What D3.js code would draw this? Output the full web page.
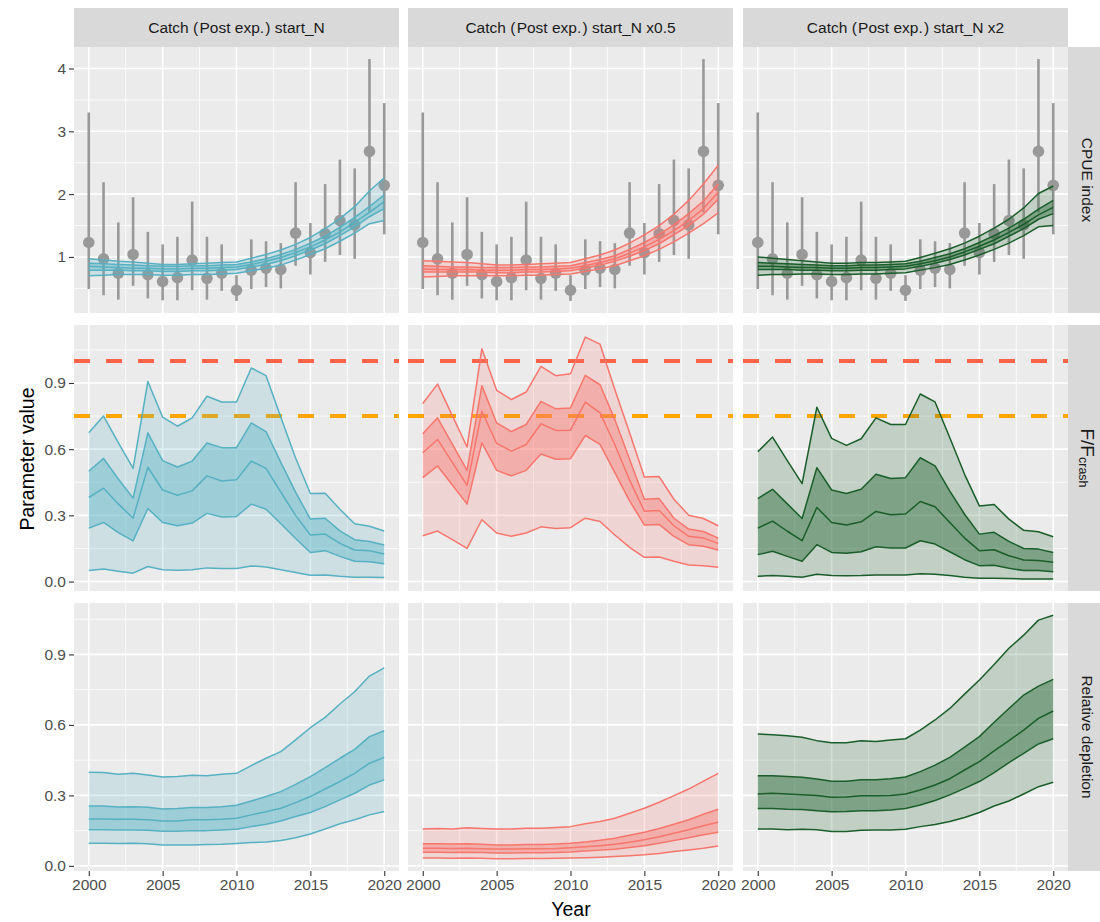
<!DOCTYPE html>
<html>
<head>
<meta charset="utf-8">
<script src="https://cdn.jsdelivr.net/npm/d3@7"></script>
<style>
  body { margin: 0; background: #ffffff; }
  svg { display: block; }
  text { font-family: "Liberation Sans", Arial, Helvetica, sans-serif; }
</style>
</head>
<body>
<svg id="chart" width="1100" height="922"></svg>
<script>
// ---- data -------------------------------------------------------------
const years = [2000, 2001, 2002, 2003, 2004, 2005, 2006, 2007, 2008, 2009, 2010,
               2011, 2012, 2013, 2014, 2015, 2016, 2017, 2018, 2019, 2020];

const scenarios = ["Catch (\u200APost exp.\u200A) start_N", "Catch (\u200APost exp.\u200A) start_N x0.5", "Catch (\u200APost exp.\u200A) start_N x2"];
const scenarioColors = ["#56B1C2", "#F8766D", "#1A5E2A"];
const metrics = ["CPUE index", "F/F_crash", "Relative depletion"];

// observed CPUE index with its interval
const cpueObs  = [1.23, 0.97, 0.74, 1.04, 0.72, 0.61, 0.67, 0.95, 0.66, 0.74, 0.47,
                  0.79, 0.82, 0.80, 1.38, 1.07, 1.37, 1.58, 1.51, 2.68, 2.14];
const cpueLow  = [0.49, 0.39, 0.32, 0.54, 0.34, 0.31, 0.31, 0.47, 0.32, 0.46, 0.30,
                  0.49, 0.52, 0.50, 0.86, 0.72, 0.92, 1.03, 0.97, 1.71, 1.36];
const cpueHigh = [3.30, 2.19, 1.55, 1.95, 1.40, 1.20, 1.32, 1.88, 1.32, 1.20, 0.71,
                  1.28, 1.25, 1.22, 2.19, 1.54, 2.16, 2.55, 2.41, 4.15, 3.45];

// model quantiles per year: [2.5%, 25%, 50%, 75%, 97.5%]
const cpueStartN = [
  [0.70,0.79,0.85,0.90,0.97],[0.71,0.79,0.84,0.89,0.95],[0.72,0.79,0.83,0.88,0.93],
  [0.72,0.78,0.82,0.87,0.92],[0.72,0.78,0.82,0.86,0.90],[0.71,0.77,0.81,0.85,0.88],
  [0.71,0.77,0.81,0.85,0.88],[0.72,0.78,0.82,0.86,0.89],[0.72,0.78,0.82,0.86,0.90],
  [0.73,0.79,0.83,0.87,0.91],[0.74,0.80,0.84,0.88,0.92],[0.78,0.84,0.88,0.92,0.98],
  [0.82,0.88,0.93,0.97,1.04],[0.87,0.94,0.99,1.04,1.11],[0.95,1.02,1.07,1.12,1.20],
  [1.04,1.11,1.16,1.22,1.31],[1.13,1.21,1.27,1.33,1.45],[1.25,1.34,1.40,1.47,1.61],
  [1.38,1.48,1.55,1.63,1.80],[1.53,1.64,1.71,1.80,2.05],[1.58,1.77,1.88,1.99,2.26]];
const cpueHalfN = [
  [0.68,0.76,0.81,0.86,0.94],[0.69,0.76,0.80,0.85,0.93],[0.70,0.76,0.80,0.84,0.92],
  [0.70,0.76,0.80,0.84,0.91],[0.70,0.76,0.79,0.83,0.89],[0.70,0.75,0.79,0.83,0.87],
  [0.70,0.75,0.79,0.83,0.87],[0.71,0.76,0.80,0.84,0.88],[0.71,0.76,0.80,0.84,0.89],
  [0.72,0.77,0.81,0.85,0.90],[0.73,0.78,0.82,0.86,0.91],[0.77,0.82,0.86,0.91,0.97],
  [0.81,0.87,0.91,0.96,1.03],[0.86,0.93,0.97,1.02,1.11],[0.94,1.01,1.06,1.12,1.22],
  [1.02,1.10,1.16,1.23,1.35],[1.12,1.21,1.28,1.36,1.50],[1.24,1.35,1.42,1.51,1.68],
  [1.38,1.50,1.58,1.69,1.90],[1.53,1.68,1.77,1.89,2.16],[1.70,1.92,2.03,2.16,2.46]];
const cpueDoubleN = [
  [0.71,0.80,0.85,0.91,1.00],[0.72,0.80,0.85,0.90,0.98],[0.72,0.80,0.84,0.89,0.96],
  [0.73,0.79,0.83,0.88,0.94],[0.73,0.79,0.83,0.87,0.92],[0.72,0.78,0.82,0.86,0.90],
  [0.72,0.78,0.82,0.86,0.90],[0.73,0.79,0.83,0.87,0.91],[0.73,0.79,0.83,0.87,0.91],
  [0.74,0.80,0.84,0.88,0.92],[0.75,0.81,0.85,0.89,0.93],[0.79,0.85,0.89,0.93,0.99],
  [0.83,0.90,0.94,0.99,1.06],[0.88,0.96,1.00,1.05,1.13],[0.95,1.03,1.08,1.13,1.22],
  [1.03,1.12,1.17,1.23,1.33],[1.12,1.21,1.27,1.34,1.46],[1.22,1.33,1.39,1.46,1.60],
  [1.34,1.45,1.52,1.60,1.78],[1.48,1.60,1.67,1.76,2.01],[1.50,1.69,1.79,1.90,2.13]];

const fStartN = [
  [0.050,0.242,0.381,0.500,0.674],[0.057,0.268,0.423,0.558,0.750],[0.047,0.222,0.352,0.465,0.630],
  [0.038,0.184,0.287,0.378,0.513],[0.068,0.331,0.518,0.674,0.907],[0.054,0.268,0.415,0.548,0.745],
  [0.051,0.253,0.391,0.519,0.704],[0.054,0.265,0.411,0.546,0.742],[0.062,0.309,0.479,0.628,0.840],
  [0.059,0.293,0.456,0.607,0.814],[0.059,0.295,0.461,0.607,0.814],[0.071,0.351,0.546,0.719,0.968],
  [0.066,0.328,0.513,0.680,0.933],[0.054,0.262,0.405,0.540,0.745],[0.041,0.195,0.300,0.405,0.560],
  [0.029,0.132,0.211,0.283,0.399],[0.030,0.140,0.215,0.287,0.400],[0.024,0.114,0.173,0.230,0.328],
  [0.020,0.092,0.143,0.190,0.262],[0.020,0.090,0.140,0.182,0.251],[0.018,0.081,0.125,0.166,0.229]];
const fHalfN = [
  [0.208,0.471,0.584,0.670,0.807],[0.229,0.524,0.644,0.742,0.895],[0.190,0.438,0.540,0.623,0.752],
  [0.150,0.351,0.436,0.504,0.610],[0.280,0.629,0.772,0.888,1.055],[0.220,0.504,0.626,0.719,0.867],
  [0.205,0.479,0.591,0.680,0.825],[0.220,0.504,0.621,0.712,0.859],[0.248,0.578,0.715,0.817,0.975],
  [0.241,0.554,0.685,0.783,0.933],[0.244,0.557,0.686,0.787,0.942],[0.287,0.662,0.813,0.935,1.108],
  [0.272,0.622,0.765,0.892,1.076],[0.211,0.494,0.620,0.734,0.870],[0.155,0.366,0.460,0.554,0.674],
  [0.110,0.256,0.319,0.373,0.474],[0.111,0.259,0.322,0.376,0.476],[0.092,0.205,0.253,0.287,0.373],
  [0.075,0.167,0.205,0.238,0.301],[0.072,0.160,0.197,0.227,0.286],[0.065,0.143,0.173,0.197,0.253]];
const fDoubleN = [
  [0.024,0.122,0.242,0.376,0.588],[0.027,0.137,0.274,0.418,0.655],[0.024,0.114,0.228,0.352,0.548],
  [0.020,0.092,0.185,0.286,0.444],[0.033,0.167,0.336,0.516,0.790],[0.027,0.132,0.268,0.415,0.649],
  [0.026,0.128,0.256,0.399,0.617],[0.027,0.135,0.271,0.418,0.647],[0.030,0.158,0.318,0.486,0.742],
  [0.030,0.152,0.303,0.467,0.712],[0.030,0.152,0.306,0.471,0.712],[0.035,0.185,0.363,0.561,0.850],
  [0.033,0.170,0.339,0.524,0.814],[0.027,0.135,0.268,0.410,0.652],[0.020,0.099,0.197,0.305,0.486],
  [0.015,0.072,0.140,0.215,0.343],[0.015,0.074,0.144,0.223,0.349],[0.014,0.060,0.117,0.182,0.283],
  [0.012,0.050,0.098,0.150,0.232],[0.012,0.050,0.095,0.147,0.226],[0.012,0.045,0.087,0.132,0.203]];

const depStartN = [
  [0.096,0.154,0.200,0.255,0.398],[0.096,0.154,0.200,0.255,0.397],[0.095,0.153,0.198,0.251,0.390],
  [0.096,0.153,0.198,0.252,0.394],[0.094,0.152,0.196,0.249,0.387],[0.089,0.147,0.191,0.242,0.378],
  [0.089,0.147,0.191,0.244,0.380],[0.089,0.150,0.196,0.248,0.386],[0.091,0.150,0.196,0.248,0.384],
  [0.092,0.153,0.198,0.252,0.390],[0.095,0.156,0.203,0.258,0.394],[0.099,0.167,0.217,0.276,0.427],
  [0.102,0.177,0.230,0.295,0.458],[0.108,0.191,0.245,0.316,0.486],[0.120,0.210,0.269,0.347,0.536],
  [0.136,0.227,0.295,0.380,0.588],[0.157,0.252,0.327,0.418,0.632],[0.179,0.281,0.359,0.458,0.689],
  [0.196,0.309,0.394,0.496,0.741],[0.217,0.344,0.437,0.550,0.808],[0.231,0.366,0.462,0.575,0.843]];
const depHalfN = [
  [0.033,0.058,0.075,0.094,0.157],[0.033,0.058,0.075,0.094,0.159],[0.032,0.057,0.074,0.093,0.157],
  [0.033,0.058,0.075,0.094,0.162],[0.032,0.057,0.073,0.092,0.159],[0.030,0.055,0.072,0.089,0.157],
  [0.030,0.055,0.072,0.089,0.157],[0.031,0.056,0.073,0.091,0.160],[0.031,0.056,0.073,0.091,0.160],
  [0.032,0.057,0.074,0.093,0.163],[0.033,0.059,0.077,0.096,0.167],[0.035,0.063,0.081,0.102,0.179],
  [0.037,0.067,0.086,0.109,0.189],[0.040,0.071,0.092,0.118,0.203],[0.043,0.078,0.101,0.130,0.224],
  [0.047,0.086,0.111,0.143,0.245],[0.053,0.096,0.124,0.159,0.271],[0.061,0.108,0.139,0.177,0.299],
  [0.068,0.120,0.154,0.196,0.327],[0.075,0.132,0.171,0.220,0.361],[0.085,0.143,0.186,0.241,0.394]];
const depDoubleN = [
  [0.157,0.244,0.306,0.384,0.561],[0.157,0.244,0.309,0.384,0.558],[0.154,0.241,0.306,0.380,0.554],
  [0.156,0.240,0.303,0.377,0.547],[0.154,0.235,0.299,0.370,0.533],[0.146,0.230,0.292,0.360,0.524],
  [0.146,0.231,0.293,0.360,0.524],[0.152,0.235,0.298,0.367,0.533],[0.153,0.235,0.298,0.367,0.529],
  [0.153,0.238,0.300,0.371,0.536],[0.156,0.244,0.306,0.378,0.541],[0.167,0.259,0.323,0.401,0.578],
  [0.176,0.278,0.344,0.429,0.621],[0.189,0.302,0.371,0.462,0.670],[0.206,0.330,0.408,0.505,0.731],
  [0.227,0.359,0.444,0.550,0.791],[0.255,0.397,0.489,0.611,0.857],[0.276,0.439,0.533,0.670,0.926],
  [0.306,0.479,0.578,0.727,0.982],[0.337,0.519,0.628,0.765,1.046],[0.356,0.541,0.659,0.794,1.067]];

// reference levels on the F/F_crash row
const fLimit = 1.0;
const fTarget = 0.75;

const xTicks = [2000, 2005, 2010, 2015, 2020];
const yTicksByRow = [[1, 2, 3, 4], [0, 0.3, 0.6, 0.9], [0, 0.3, 0.6, 0.9]];

const modelByRow = [
  [cpueStartN, cpueHalfN, cpueDoubleN],
  [fStartN, fHalfN, fDoubleN],
  [depStartN, depHalfN, depDoubleN]
];

// ---- layout -----------------------------------------------------------
const svg = d3.select("#chart");
const colX = [74, 408, 743];
const panelW = 325;
const rowY = [47, 325, 603];
const panelH = [266, 266, 268];
const stripTop = 8;
const stripRightX = 1068;
const stripRightW = 39;

const panelBg = "#EBEBEB";
const stripBg = "#D9D9D9";
const tickFont = 15.5;
const stripFont = 15.5;
const titleFont = 19.5;

// y scales shared across a row (expanded by 5% like the default continuous scale)
function expanded(lo, hi) {
  const pad = (hi - lo) * 0.05;
  return [lo - pad, hi + pad];
}
const yDomains = modelByRow.map((sets, r) => {
  let vals = sets.flat(2);
  if (r === 0) vals = vals.concat(cpueLow, cpueHigh, cpueObs);
  if (r === 1) vals = vals.concat([fLimit, fTarget]);
  return expanded(d3.min(vals), d3.max(vals));
});
const yScales = yDomains.map((dom, r) =>
  d3.scaleLinear().domain(dom).range([rowY[r] + panelH[r], rowY[r]]));
const xScales = colX.map(x0 =>
  d3.scaleLinear().domain(expanded(2000, 2020)).range([x0, x0 + panelW]));

const defs = svg.append("defs");

function midpoints(ticks, dom) {
  const step = ticks[1] - ticks[0];
  const out = [];
  for (let v = ticks[0] - step / 2; v <= dom[1]; v += step) {
    if (v >= dom[0]) out.push(v);
  }
  return out;
}

function styleAxis(ax) {
  ax.select(".domain").remove();
  ax.selectAll(".tick line").attr("stroke", "#333333").attr("stroke-width", 1.1);
  ax.selectAll(".tick text").attr("fill", "#4D4D4D").attr("font-size", tickFont)
    .attr("font-family", "Liberation Sans, Arial, sans-serif");
}

// ---- panels -----------------------------------------------------------
for (let r = 0; r < 3; r++) {
  for (let c = 0; c < 3; c++) {
    const x = xScales[c], y = yScales[r];
    const x0 = colX[c], y0 = rowY[r];
    const col = scenarioColors[c];
    const clipId = `clip-${r}-${c}`;
    defs.append("clipPath").attr("id", clipId)
      .append("rect").attr("x", x0).attr("y", y0).attr("width", panelW).attr("height", panelH[r]);

    const g = svg.append("g");
    g.append("rect").attr("x", x0).attr("y", y0).attr("width", panelW).attr("height", panelH[r])
      .attr("fill", panelBg);

    // grid
    const grid = g.append("g");
    const xMinor = midpoints(xTicks, x.domain());
    const yMinor = midpoints(yTicksByRow[r], y.domain());
    grid.selectAll(".xm").data(xMinor).join("line")
      .attr("x1", d => x(d)).attr("x2", d => x(d)).attr("y1", y0).attr("y2", y0 + panelH[r])
      .attr("stroke", "#fff").attr("stroke-width", 0.8);
    grid.selectAll(".ym").data(yMinor).join("line")
      .attr("y1", d => y(d)).attr("y2", d => y(d)).attr("x1", x0).attr("x2", x0 + panelW)
      .attr("stroke", "#fff").attr("stroke-width", 0.8);
    grid.selectAll(".xM").data(xTicks).join("line")
      .attr("x1", d => x(d)).attr("x2", d => x(d)).attr("y1", y0).attr("y2", y0 + panelH[r])
      .attr("stroke", "#fff").attr("stroke-width", 1.6);
    grid.selectAll(".yM").data(yTicksByRow[r]).join("line")
      .attr("y1", d => y(d)).attr("y2", d => y(d)).attr("x1", x0).attr("x2", x0 + panelW)
      .attr("stroke", "#fff").attr("stroke-width", 1.6);

    const plot = g.append("g").attr("clip-path", `url(#${clipId})`);

    if (r === 0) {
      // observed index with intervals
      plot.selectAll(".eb").data(years).join("line")
        .attr("x1", d => x(d)).attr("x2", d => x(d))
        .attr("y1", (d, i) => y(cpueLow[i])).attr("y2", (d, i) => y(cpueHigh[i]))
        .attr("stroke", "#999999").attr("stroke-width", 2.6);
      plot.selectAll(".pt").data(years).join("circle")
        .attr("cx", d => x(d)).attr("cy", (d, i) => y(cpueObs[i])).attr("r", 5.8)
        .attr("fill", "#999999");
    }
    if (r === 1) {
      plot.append("line").attr("x1", x0).attr("x2", x0 + panelW)
        .attr("y1", y(fLimit)).attr("y2", y(fLimit))
        .attr("stroke", "#FF6347").attr("stroke-width", 4).attr("stroke-dasharray", "16,16");
      plot.append("line").attr("x1", x0).attr("x2", x0 + panelW)
        .attr("y1", y(fTarget)).attr("y2", y(fTarget))
        .attr("stroke", "#FFA500").attr("stroke-width", 4).attr("stroke-dasharray", "16,16");
    }

    const q = modelByRow[r][c];
    const outer = d3.area().x((d, i) => x(years[i])).y0(d => y(d[0])).y1(d => y(d[4]));
    const inner = d3.area().x((d, i) => x(years[i])).y0(d => y(d[1])).y1(d => y(d[3]));
    plot.append("path").attr("d", outer(q)).attr("fill", col).attr("fill-opacity", 0.2);
    plot.append("path").attr("d", inner(q)).attr("fill", col).attr("fill-opacity", 0.4);
    for (let k = 0; k < 5; k++) {
      const ln = d3.line().x((d, i) => x(years[i])).y(d => y(d[k]));
      plot.append("path").attr("d", ln(q)).attr("fill", "none")
        .attr("stroke", col).attr("stroke-width", 1.5).attr("stroke-linejoin", "round");
    }

    // left axis on first column
    if (c === 0) {
      const fmt = r === 0 ? d3.format("d") : d3.format(".1f");
      const ax = svg.append("g").attr("transform", `translate(${x0},0)`)
        .call(d3.axisLeft(y).tickValues(yTicksByRow[r]).tickFormat(fmt).tickSize(5).tickPadding(3));
      styleAxis(ax);
    }
    // bottom axis on last row
    if (r === 2) {
      const ax = svg.append("g").attr("transform", `translate(0,${y0 + panelH[r]})`)
        .call(d3.axisBottom(x).tickValues(xTicks).tickFormat(d3.format("d")).tickSize(5).tickPadding(3));
      styleAxis(ax);
    }
  }
}

// ---- strips -----------------------------------------------------------
scenarios.forEach((s, c) => {
  svg.append("rect").attr("x", colX[c]).attr("y", stripTop).attr("width", panelW)
    .attr("height", rowY[0] - stripTop).attr("fill", stripBg);
  svg.append("text").attr("x", colX[c] + panelW / 2).attr("y", (stripTop + rowY[0]) / 2)
    .attr("text-anchor", "middle").attr("dominant-baseline", "central")
    .attr("font-size", stripFont).attr("fill", "#1A1A1A").text(s);
});

metrics.forEach((m, r) => {
  svg.append("rect").attr("x", stripRightX).attr("y", rowY[r]).attr("width", stripRightW)
    .attr("height", panelH[r]).attr("fill", stripBg);
  const cx = stripRightX + stripRightW / 2;
  const cy = rowY[r] + panelH[r] / 2;
  const t = svg.append("text").attr("transform", `translate(${cx},${cy}) rotate(90)`)
    .attr("text-anchor", "middle").attr("dominant-baseline", "central")
    .attr("font-size", stripFont).attr("fill", "#1A1A1A");
  if (m === "F/F_crash") {
    t.append("tspan").attr("font-size", 19).text("F/F");
    t.append("tspan").attr("font-size", 12.5).attr("dy", 5).text("crash");
  } else {
    t.text(m);
  }
});

// ---- axis titles ------------------------------------------------------
svg.append("text")
  .attr("transform", `translate(27,${(rowY[0] + rowY[2] + panelH[2]) / 2}) rotate(-90)`)
  .attr("text-anchor", "middle").attr("dominant-baseline", "central")
  .attr("font-size", titleFont).attr("fill", "#000").text("Parameter value");
svg.append("text")
  .attr("x", (colX[0] + colX[2] + panelW) / 2).attr("y", 909)
  .attr("text-anchor", "middle").attr("dominant-baseline", "central")
  .attr("font-size", titleFont).attr("fill", "#000").text("Year");
</script>
</body>
</html>
